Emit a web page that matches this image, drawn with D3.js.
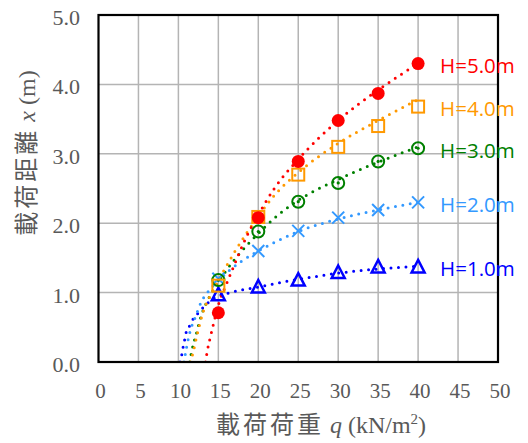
<!DOCTYPE html>
<html>
<head>
<meta charset="utf-8">
<script src="https://cdn.jsdelivr.net/npm/d3@7"></script>
<style>
  body { margin: 0; background: #fff; }
</style>
</head>
<body>
<div id="chart"></div>
<script>
// load q (kN/m2)
const qVals = [15, 20, 25, 30, 35, 40];

// measured load distance x (m) per embankment height
const h5 = [0.71, 2.08, 2.89, 3.48, 3.87, 4.30];
const h4 = [1.10, 2.09, 2.70, 3.10, 3.40, 3.68];
const h3 = [1.18, 1.88, 2.31, 2.58, 2.89, 3.08];
const h2 = [1.20, 1.60, 1.89, 2.08, 2.19, 2.30];
const h1 = [0.97, 1.08, 1.18, 1.29, 1.37, 1.37];

// dotted curves (q, x)
const c5q = [13.4, 13.6, 14.0, 14.5, 15, 16, 17, 18.5, 20, 22, 25, 30, 35, 40];
const c5x = [0, 0.15, 0.36, 0.6, 0.82, 1.12, 1.4, 1.8, 2.12, 2.5, 2.92, 3.48, 3.92, 4.3];
const c4q = [11.5, 11.8, 12.3, 13.1, 14.2, 15, 16, 17, 18.5, 20, 22, 25, 30, 35, 40];
const c4x = [0, 0.12, 0.37, 0.72, 1.0, 1.18, 1.38, 1.58, 1.85, 2.1, 2.4, 2.73, 3.15, 3.48, 3.78];
const c3q = [11.4, 11.9, 12.2, 12.9, 13.5, 14.4, 15, 16, 17.7, 20, 22.5, 25, 30, 35, 40];
const c3x = [0, 0.27, 0.39, 0.68, 0.85, 1.04, 1.15, 1.32, 1.57, 1.85, 2.12, 2.33, 2.63, 2.88, 3.1];
const c2q = [10.7, 10.85, 11.25, 11.65, 12.1, 12.8, 13.9, 15, 16.5, 18, 20, 22.5, 25, 30, 35, 40];
const c2x = [0, 0.1, 0.34, 0.51, 0.64, 0.85, 1.04, 1.17, 1.33, 1.46, 1.6, 1.75, 1.88, 2.06, 2.19, 2.3];
const c1q = [10.2, 10.4, 10.6, 10.8, 11.0, 11.45, 11.9, 12.6, 13.2, 14, 15, 16.5, 18, 20, 22.5, 25, 30, 35, 40];
const c1x = [0, 0.09, 0.22, 0.33, 0.44, 0.53, 0.63, 0.72, 0.8, 0.88, 0.95, 1.0, 1.04, 1.08, 1.14, 1.19, 1.28, 1.34, 1.38];

const labels = ['H=1.0m', 'H=2.0m', 'H=3.0m', 'H=4.0m', 'H=5.0m'];
const xTicks = [0, 5, 10, 15, 20, 25, 30, 35, 40, 45, 50];
const yTicks = [0, 1, 2, 3, 4, 5];

const W = 528, H = 443;
const pLeft = 98.5, pRight = 498, pTop = 15, pBottom = 362;

const svg = d3.select('#chart').append('svg')
    .attr('width', W)
    .attr('height', H);

const x = d3.scaleLinear().domain([0, 50]).range([pLeft, pRight]);
const y = d3.scaleLinear().domain([0, 5]).range([pBottom, pTop]);

// grid
svg.append('g')
    .selectAll('line')
    .data(xTicks.slice(1, -1))
    .join('line')
    .attr('x1', d => x(d)).attr('x2', d => x(d))
    .attr('y1', pTop).attr('y2', pBottom)
    .attr('stroke', '#b4b4b4').attr('stroke-width', 1.5);

svg.append('g')
    .selectAll('line')
    .data(yTicks.slice(1, -1))
    .join('line')
    .attr('y1', d => y(d)).attr('y2', d => y(d))
    .attr('x1', pLeft).attr('x2', pRight)
    .attr('stroke', '#b4b4b4').attr('stroke-width', 1.5);

// tick labels
svg.append('g')
    .selectAll('text')
    .data(xTicks)
    .join('text')
    .attr('x', d => x(d) + 2)
    .attr('y', 398)
    .attr('text-anchor', 'middle')
    .attr('font-family', 'Liberation Serif, serif')
    .attr('font-size', 21)
    .attr('fill', '#595959')
    .text(d => d);

svg.append('g')
    .selectAll('text')
    .data(yTicks)
    .join('text')
    .attr('x', 80)
    .attr('y', d => y(d))
    .attr('dy', '0.45em')
    .attr('text-anchor', 'end')
    .attr('font-family', 'Liberation Serif, serif')
    .attr('font-size', 22)
    .attr('fill', '#595959')
    .text(d => d.toFixed(1));

// series
const series = [
    { ys: h1, cq: c1q, cx: c1x, color: '#0000ff', shape: 'tri' },
    { ys: h2, cq: c2q, cx: c2x, color: '#3399ff', shape: 'x' },
    { ys: h3, cq: c3q, cx: c3x, color: '#008000', shape: 'dotcircle' },
    { ys: h4, cq: c4q, cx: c4x, color: '#ff9900', shape: 'square' },
    { ys: h5, cq: c5q, cx: c5x, color: '#ff0000', shape: 'circle' }
];

svg.append('clipPath').attr('id', 'clip')
    .append('rect')
    .attr('x', pLeft).attr('y', pTop)
    .attr('width', pRight - pLeft).attr('height', pBottom - pTop);

const line = d3.line()
    .x(d => x(d[0]))
    .y(d => y(d[1]))
    .curve(d3.curveMonotoneX);

const curves = svg.append('g').attr('clip-path', 'url(#clip)');
series.forEach(s => {
    curves.append('path')
        .datum(d3.zip(s.cq, s.cx))
        .attr('d', line)
        .attr('fill', 'none')
        .attr('stroke', s.color)
        .attr('stroke-width', 3)
        .attr('stroke-linecap', 'round')
        .attr('stroke-dasharray', '0 7.5');
});

// frame
svg.append('rect')
    .attr('x', pLeft).attr('y', pTop)
    .attr('width', pRight - pLeft).attr('height', pBottom - pTop)
    .attr('fill', 'none')
    .attr('stroke', '#000')
    .attr('stroke-width', 2.2);

// markers
series.forEach(s => {
    const g = svg.append('g');
    const pts = d3.zip(qVals, s.ys);
    pts.forEach(p => {
        const px = x(p[0]), py = y(p[1]);
        if (s.shape === 'circle') {
            g.append('circle').attr('cx', px).attr('cy', py).attr('r', 6.5).attr('fill', s.color);
        } else if (s.shape === 'square') {
            g.append('rect').attr('x', px - 6).attr('y', py - 6).attr('width', 12).attr('height', 12)
                .attr('fill', 'none').attr('stroke', s.color).attr('stroke-width', 2);
        } else if (s.shape === 'dotcircle') {
            g.append('circle').attr('cx', px).attr('cy', py).attr('r', 6)
                .attr('fill', 'none').attr('stroke', s.color).attr('stroke-width', 2);
            g.append('circle').attr('cx', px).attr('cy', py).attr('r', 1.6).attr('fill', s.color);
        } else if (s.shape === 'x') {
            g.append('path')
                .attr('d', `M${px - 6},${py - 6}L${px + 6},${py + 6}M${px - 6},${py + 6}L${px + 6},${py - 6}`)
                .attr('stroke', s.color).attr('stroke-width', 2);
        } else {
            g.append('path')
                .attr('d', `M${px},${py - 7}L${px + 6.5},${py + 5.5}L${px - 6.5},${py + 5.5}Z`)
                .attr('fill', 'none').attr('stroke', s.color).attr('stroke-width', 2.5)
                .attr('stroke-linejoin', 'miter');
        }
    });
});

// labels at last point
series.forEach((s, i) => {
    svg.append('text')
        .attr('x', x(qVals[qVals.length - 1]) + 22)
        .attr('y', y(s.ys[s.ys.length - 1]) + 9.5)
        .attr('font-family', 'Open Sans, sans-serif')
        .attr('font-size', 20.5)
        .attr('fill', s.color)
        .text(labels[i]);
});

// axis titles
const xt = svg.append('text')
    .attr('x', 321)
    .attr('y', 433)
    .attr('text-anchor', 'middle')
    .attr('fill', '#595959')
    .attr('font-size', 24);
xt.append('tspan').attr('font-family', 'Noto Sans CJK JP').attr('letter-spacing', 3).text('載荷荷重');
xt.append('tspan').attr('font-family', 'Liberation Serif, serif').attr('font-style', 'italic').text(' q');
xt.append('tspan').attr('font-family', 'Liberation Serif, serif').text(' (kN/m');
xt.append('tspan').attr('font-family', 'Liberation Serif, serif').attr('font-size', 15).attr('dy', -9).text('2');
xt.append('tspan').attr('font-family', 'Liberation Serif, serif').attr('dy', 9).text(')');

const yt = svg.append('text')
    .attr('transform', 'translate(35,153) rotate(-90)')
    .attr('text-anchor', 'middle')
    .attr('fill', '#595959')
    .attr('font-size', 24);
yt.append('tspan').attr('font-family', 'Noto Sans CJK JP').attr('letter-spacing', 3).text('載荷距離');
yt.append('tspan').attr('font-family', 'Liberation Serif, serif').attr('font-style', 'italic').text(' x');
yt.append('tspan').attr('font-family', 'Liberation Serif, serif').text(' (m)');
</script>
</body>
</html>
